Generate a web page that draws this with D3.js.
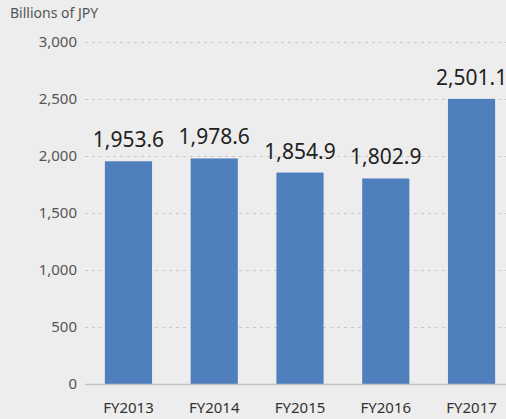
<!DOCTYPE html>
<html>
<head>
<meta charset="utf-8">
<script src="https://cdn.jsdelivr.net/npm/d3@7"></script>
<style>
  body { margin: 0; background: #ededed; }
  svg { display: block; font-family: "Noto Sans", "Open Sans", sans-serif; }
  .axis--y .domain, .axis--y line { display: none; }
  .axis--x .domain, .axis--x line { display: none; }
</style>
</head>
<body>
<script>
  var years = ["FY2013", "FY2014", "FY2015", "FY2016", "FY2017"];
  var sales = [1953.6, 1978.6, 1854.9, 1802.9, 2501.1];
  var yTicks = [0, 500, 1000, 1500, 2000, 2500, 3000];

  var width = 506,
      height = 419;

  var xScale = d3.scaleBand()
                .range([86, 514])
                .paddingInner(0.45)
                .paddingOuter(0.22)
                .domain(years);
  var yScale = d3.scaleLinear()
                .range([384, 42])
                .domain([0, 3000]);

  var svg = d3.select("body").append("svg")
            .attr("width", width)
            .attr("height", height);

  svg.append("rect")
    .attr("width", width)
    .attr("height", height)
    .attr("fill", "#ededed");

  // unit label
  svg.append("text")
    .attr("x", 10)
    .attr("y", 18)
    .attr("font-size", "14px")
    .attr("fill", "#555")
    .text("Billions of JPY");

  // grid
  svg.append("g")
    .selectAll("line")
    .data(yTicks.filter(function(d) { return d > 0; }))
    .enter().append("line")
      .attr("x1", 85)
      .attr("x2", width)
      .attr("y1", function(d) { return yScale(d) + 0.5; })
      .attr("y2", function(d) { return yScale(d) + 0.5; })
      .attr("stroke", "#c8c8c8")
      .attr("stroke-dasharray", "3,4");

  // axis-y
  var yAxis = svg.append("g")
      .attr("class", "axis axis--y")
      .attr("transform", "translate(77,0)")
      .call(d3.axisLeft(yScale).tickValues(yTicks).tickSize(0).tickPadding(0)
        .tickFormat(d3.format(",")));
  yAxis.selectAll("text")
      .attr("font-size", "15px")
      .attr("fill", "#555")
      .attr("font-family", "Noto Sans, sans-serif");

  // bars
  var dataset = years.map(function(y, i) { return [y, sales[i]]; });

  svg.append("g")
    .selectAll("rect")
    .data(dataset)
    .enter().append("rect")
      .attr("x", function(d) { return xScale(d[0]); })
      .attr("y", function(d) { return yScale(d[1]); })
      .attr("width", xScale.bandwidth())
      .attr("height", function(d) { return yScale(0) - yScale(d[1]); })
      .attr("fill", "#4f80bd");

  // baseline
  svg.append("line")
    .attr("x1", 85)
    .attr("x2", width)
    .attr("y1", yScale(0) + 0.5)
    .attr("y2", yScale(0) + 0.5)
    .attr("stroke", "#c4c4c4")
    .attr("stroke-width", 1.5);

  // value labels
  svg.append("g")
    .selectAll("text")
    .data(dataset)
    .enter().append("text")
      .attr("x", function(d) { return xScale(d[0]) + xScale.bandwidth() / 2; })
      .attr("y", function(d) { return yScale(d[1]) - 14; })
      .attr("text-anchor", "middle")
      .attr("font-size", "21px")
      .attr("fill", "#222")
      .text(function(d) { return d3.format(",.1f")(d[1]); });

  // axis-x
  var xAxis = svg.append("g")
      .attr("class", "axis axis--x")
      .attr("transform", "translate(0,402)")
      .call(d3.axisBottom(xScale).tickSize(0).tickPadding(0));
  xAxis.selectAll("text")
      .attr("font-size", "15px")
      .attr("fill", "#333")
      .attr("font-family", "Noto Sans, sans-serif");
</script>
</body>
</html>
